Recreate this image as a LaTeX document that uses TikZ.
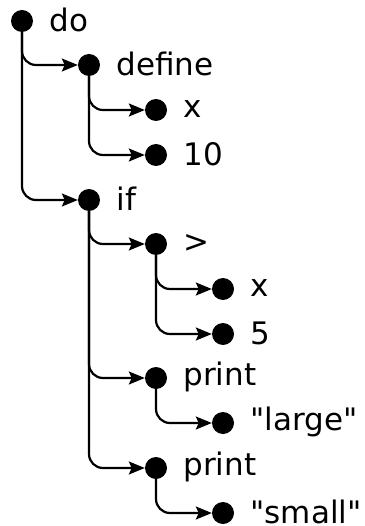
\documentclass[tikz,border=0pt]{standalone}
\usepackage{fontspec}
\setmainfont{DejaVu Sans}[Ligatures=TeXOff]
\usetikzlibrary{arrows.meta}

\begin{document}
\begin{tikzpicture}[x=1pt, y=-1pt]
            \tikzstyle{dot}=[circle, fill=black, inner sep=0pt, minimum size=22pt]
            \tikzstyle{edge}=[line width=2.2pt, rounded corners=14pt, -{Stealth[length=16pt, width=13pt, inset=3pt]}]
            \tikzstyle{every label}=[font=\fontsize{31}{37}\selectfont, inner sep=0pt, xshift=16pt, yshift=1pt]

            \useasboundingbox (0,0) rectangle (364,526);

            \node[dot, label=right:do]      (do)     at (22,21)   {};
            \node[dot, label=right:define]  (define) at (89,65)   {};
            \node[dot, label=right:x]       (x)      at (156,110) {};
            \node[dot, label=right:10]      (ten)    at (156,155) {};
            \node[dot, label=right:if]      (if)     at (89,200)  {};
            \node[dot, label=right:>]       (gt)     at (156,244) {};
            \node[dot, label=right:x]       (xx)     at (223,289) {};
            \node[dot, label=right:5]       (five)   at (223,334) {};
            \node[dot, label=right:print]   (printa) at (156,378) {};
            \node[dot, label=right:"large"] (large)  at (223,423) {};
            \node[dot, label=right:print]   (printb) at (156,468) {};
            \node[dot, label=right:"small"] (small)  at (223,513) {};

            \draw[edge] (do) |- (define);
            \draw[edge] (do) |- (if);
            \draw[edge] (define) |- (x);
            \draw[edge] (define) |- (ten);
            \draw[edge] (if) |- (gt);
            \draw[edge] (if) |- (printa);
            \draw[edge] (if) |- (printb);
            \draw[edge] (gt) |- (xx);
            \draw[edge] (gt) |- (five);
            \draw[edge] (printa) |- (large);
            \draw[edge] (printb) |- (small);
        \end{tikzpicture}
\end{document}
